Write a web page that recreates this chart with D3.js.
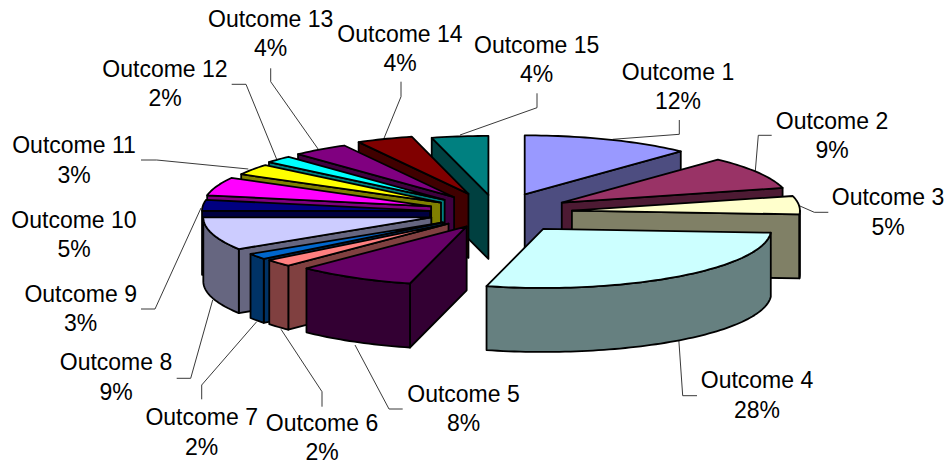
<!DOCTYPE html>
<html>
<head>
<meta charset="utf-8">
<script src="https://cdn.jsdelivr.net/npm/d3@7"></script>
<style>
  html, body { margin: 0; padding: 0; background: #fff; }
  text { font-family: "Liberation Sans", Arial, sans-serif; font-size: 23px; fill: #000; }
</style>
</head>
<body>
<svg id="canvas" width="951" height="465"></svg>
<script>
let categories = ['Outcome 1', 'Outcome 2', 'Outcome 3', 'Outcome 4', 'Outcome 5', 'Outcome 6', 'Outcome 7', 'Outcome 8',
                  'Outcome 9', 'Outcome 10', 'Outcome 11', 'Outcome 12', 'Outcome 13', 'Outcome 14', 'Outcome 15']
// shares, the labels show them rounded
let shares = [12, 9, 5, 28, 8.4, 2, 1.6, 9, 3, 5, 3, 2, 4, 4, 4]
// how far each slice is pulled out of the pie, as a part of the radius
let explosions = [0.33, 0.33, 0.33, 0.345, 0.27, 0.285, 0.29, 0.3, 0.295, 0.307, 0.297, 0.315, 0.32, 0.34, 0.3]
let colors = ['#9999FF', '#993366', '#FFFFCC', '#CCFFFF', '#660066', '#FF8080', '#0066CC', '#CCCCFF',
              '#000080', '#FF00FF', '#FFFF00', '#00FFFF', '#800080', '#800000', '#008080']

// label placement, set by hand in the original: [centre x, first baseline]
let labelSpots = [[678, 79.5], [832, 128.7], [888, 205], [757, 388], [463.5, 401.7], [322, 430.5], [201.7, 425], [116, 370],
                  [80.7, 301.7], [74, 227.7], [74, 153], [165, 76.7], [270.7, 26.7], [400, 41.7], [536.7, 52.7]]
// leader lines, label end -> elbow -> slice. Outcome 10 has none
let leaders = [
    [[679.3, 120], [679.3, 134.3], [612.7, 139.3]],
    [[771.7, 135.3], [758.3, 135.3], [755.3, 171]],
    [[828.3, 212.3], [814.3, 212.3], [797.7, 205]],
    [[697, 395.7], [682.7, 395.7], [678.7, 338.3]],
    [[402.7, 409], [389, 409], [355, 345]],
    [[322, 406.7], [322, 391.7], [281, 329.3]],
    [[201.7, 399.3], [201.7, 385], [256.7, 321.7]],
    [[176.7, 378.3], [190.7, 378.3], [212.7, 300]],
    [[141, 309], [155, 309], [201, 208]],
    null,
    [[141, 160], [156.7, 160], [248.3, 169]],
    [[231.7, 84.3], [246, 84.3], [276.7, 159.3]],
    [[270.7, 68.3], [270.7, 81.7], [318.3, 149.3]],
    [[401, 81.7], [401, 96.7], [383.3, 140]],
    [[537, 93.3], [537, 107.7], [460, 135]]
]

let cx = 497, cy = 212.5
let rx = 228, ry = 59
let depth = 64
let lineGap = 29.5

let canvas = d3.select('#canvas')

let slices = d3.pie().sort(null)(shares).map((d, i) => {
    let mid = (d.startAngle + d.endAngle) / 2
    return {
        index: i,
        start: d.startAngle,
        end: d.endAngle,
        mid: mid,
        ax: cx + rx * explosions[i] * Math.sin(mid),
        ay: cy - ry * explosions[i] * Math.cos(mid)
    }
})

let rimPoint = (s, a, drop) => {
    return [s.ax + rx * Math.sin(a), s.ay - ry * Math.cos(a) + drop]
}

let arcPoints = (s, a0, a1, drop) => {
    let steps = Math.max(2, Math.ceil((a1 - a0) * 40))
    return d3.range(steps + 1).map((k) => rimPoint(s, a0 + (a1 - a0) * k / steps, drop))
}

let closed = d3.line().curve(d3.curveLinearClosed)
let open = d3.line()

let wallColor = (c) => {
    let col = d3.rgb(c)
    return d3.rgb(col.r / 2, col.g / 2, col.b / 2).formatHex()
}

// leaders go under the pie
canvas.append('g').selectAll('path')
    .data(leaders.filter((l) => l))
    .enter()
    .append('path')
    .attr('d', (l) => open(l))
    .attr('fill', 'none')
    .attr('stroke', '#222')
    .attr('stroke-width', 0.9)

let addFace = (group, pts, fill) => {
    group.append('path')
        .attr('d', closed(pts))
        .attr('fill', fill)
        .attr('stroke', '#000')
        .attr('stroke-width', 1.8)
        .attr('stroke-linejoin', 'round')
}

// back to front
let ordered = slices.slice().sort((a, b) => Math.cos(b.mid) - Math.cos(a.mid))

let block = canvas.append('g').selectAll('g')
    .data(ordered)
    .enter()
    .append('g')

block.each(function (s) {
    let group = d3.select(this)
    let top = colors[s.index]
    let dark = wallColor(top)
    let apex = [s.ax, s.ay]
    let apexLow = [s.ax, s.ay + depth]

    // start wall faces us on the left half, end wall on the right half
    if (Math.sin(s.start) < -1e-6) {
        addFace(group, [apex, rimPoint(s, s.start, 0), rimPoint(s, s.start, depth), apexLow], dark)
    }
    if (Math.sin(s.end) > 1e-6) {
        addFace(group, [apex, rimPoint(s, s.end, 0), rimPoint(s, s.end, depth), apexLow], dark)
    }

    // outer rim, only the front part of the ellipse
    let a0 = Math.max(s.start, Math.PI / 2)
    let a1 = Math.min(s.end, Math.PI * 1.5)
    if (a1 > a0) {
        addFace(group, arcPoints(s, a0, a1, 0).concat(arcPoints(s, a0, a1, depth).reverse()), dark)
    }

    addFace(group, [apex].concat(arcPoints(s, s.start, s.end, 0)), top)
})

let labels = canvas.append('g').selectAll('text')
    .data(categories)
    .enter()
    .append('text')
    .attr('text-anchor', 'middle')

labels.append('tspan')
    .attr('x', (d, i) => labelSpots[i][0])
    .attr('y', (d, i) => labelSpots[i][1])
    .text((d) => d)

labels.append('tspan')
    .attr('x', (d, i) => labelSpots[i][0])
    .attr('y', (d, i) => labelSpots[i][1] + lineGap)
    .text((d, i) => Math.round(shares[i]) + '%')
</script>
</body>
</html>
